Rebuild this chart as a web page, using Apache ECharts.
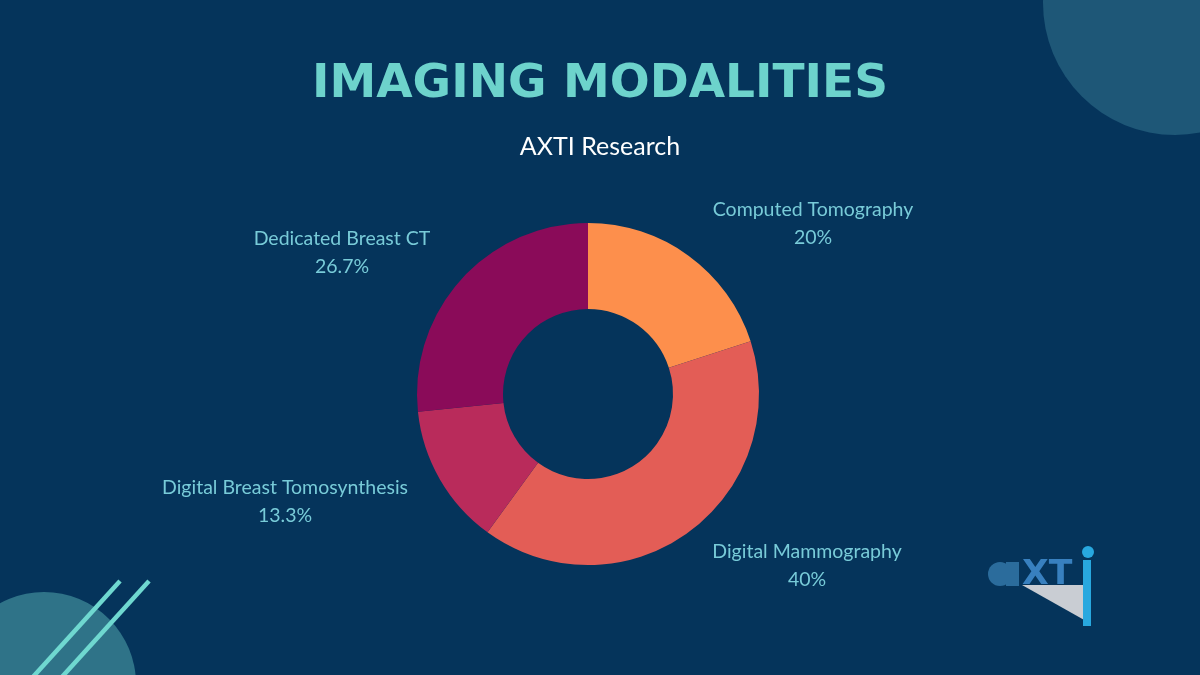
<!DOCTYPE html>
<html>
<head>
<meta charset="utf-8">
<script src="https://cdn.jsdelivr.net/npm/echarts@6/dist/echarts.min.js"></script>
<style>
html,body{margin:0;padding:0;background:#05345b;}
#chart{width:1200px;height:675px;}
</style>
</head>
<body>
<div id="chart"></div>
<script>
// ---- data ----
const categories = ['Computed Tomography', 'Digital Mammography', 'Digital Breast Tomosynthesis', 'Dedicated Breast CT'];
const counts = [3, 6, 2, 4]; // gives 20%, 40%, 13.3%, 26.7%
const sliceColors = ['#fd8f4c', '#e35d56', '#b92b5b', '#8a0b59'];
const titleText = 'IMAGING MODALITIES';
const subtitleText = 'AXTI Research';

const chart = echarts.init(document.getElementById('chart'), null, {renderer: 'canvas'});

const labelSpots = [
  [813, 224],
  [807, 566],
  [285, 502],
  [342, 253]
];

const option = {
  backgroundColor: '#05345b',
  title: [
    {
      text: titleText,
      left: 'center',
      top: 56,
      textStyle: {color: '#6dd3cc', fontSize: 47, fontWeight: 'bold', fontFamily: 'DejaVu Sans'}
    },
    {
      text: subtitleText,
      left: 'center',
      top: 129,
      textStyle: {color: '#ffffff', fontSize: 25, fontWeight: 'normal', fontFamily: 'Lato'}
    }
  ],
  graphic: [
    {type: 'circle', shape: {cx: 1175, cy: 3, r: 132}, style: {fill: '#1e5777'}, z: -1, silent: true},
    {type: 'circle', shape: {cx: 44, cy: 684, r: 92}, style: {fill: '#2f7388'}, z: -1, silent: true},
    {type: 'line', shape: {x1: 120, y1: 581, x2: 32, y2: 678}, style: {stroke: '#6fd8d0', lineWidth: 4.5}, silent: true},
    {type: 'line', shape: {x1: 149, y1: 581, x2: 61, y2: 678}, style: {stroke: '#6fd8d0', lineWidth: 4.5}, silent: true},
    // logo
    {type: 'polygon', shape: {points: [[1022, 585], [1086, 585], [1086, 621]]}, style: {fill: '#c9cdd3'}, silent: true},
    {type: 'circle', shape: {cx: 1000, cy: 574, r: 12}, style: {fill: '#2b6c9c'}, silent: true},
    {type: 'rect', shape: {x: 1006, y: 562, width: 13, height: 24}, style: {fill: '#2b6c9c'}, silent: true},
    {type: 'text', x: 1022, y: 559, scaleX: 1.05, style: {x: 0, y: 0, text: 'XT', fill: '#3880bf', font: '900 33px "DejaVu Sans"'}, silent: true},
    {type: 'rect', shape: {x: 1083, y: 560, width: 8, height: 66}, style: {fill: '#28a8df'}, silent: true},
    {type: 'circle', shape: {cx: 1088, cy: 552, r: 6}, style: {fill: '#28a8df'}, silent: true}
  ],
  series: [
    {
      type: 'pie',
      center: [588, 394],
      radius: [85, 171],
      startAngle: 90,
      clockwise: true,
      percentPrecision: 1,
      silent: true,
      avoidLabelOverlap: false,
      label: {
        show: true,
        position: 'outside',
        formatter: '{b}\n{d}%',
        color: '#78cbd8',
        fontSize: 19.5,
        fontFamily: 'Lato',
        lineHeight: 28,
        align: 'center'
      },
      labelLine: {show: false},
      labelLayout: function (params) {
        const p = labelSpots[params.dataIndex];
        return {x: p[0], y: p[1], align: 'center', verticalAlign: 'middle'};
      },
      itemStyle: {borderWidth: 0},
      data: categories.map((c, i) => ({name: c, value: counts[i], itemStyle: {color: sliceColors[i]}}))
    }
  ]
};
chart.setOption(option);
</script>
</body>
</html>
